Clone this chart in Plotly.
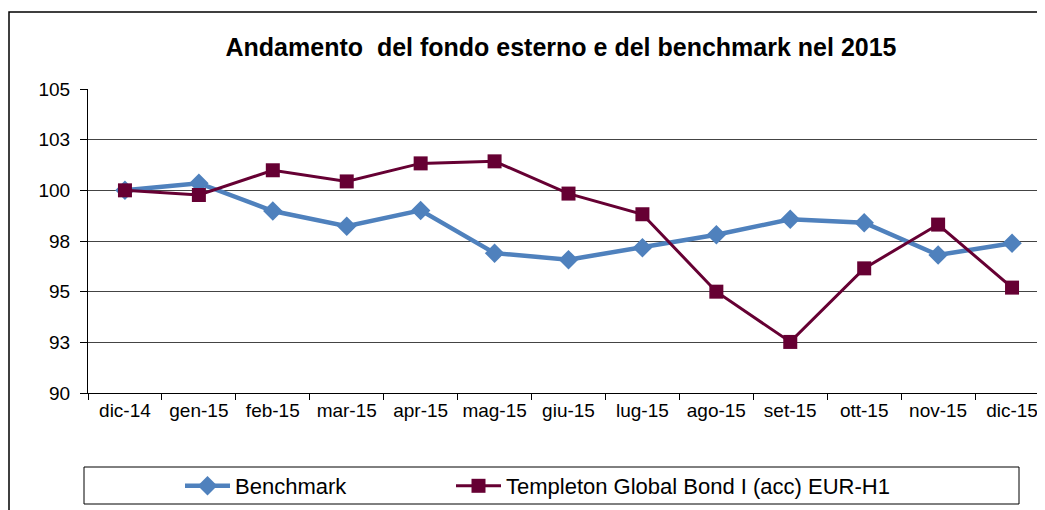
import plotly.graph_objects as go

categories = ["dic-14", "gen-15", "feb-15", "mar-15", "apr-15", "mag-15", "giu-15",
              "lug-15", "ago-15", "set-15", "ott-15", "nov-15", "dic-15"]
benchmark = [100.0, 100.35, 98.98, 98.23, 99.01, 96.9, 96.58, 97.17, 97.81, 98.57, 98.4, 96.81, 97.39]
templeton = [100.0, 99.77, 100.99, 100.44, 101.33, 101.43, 99.84, 98.82, 95.0, 92.52, 96.15, 98.31, 95.2]
y_tickvals = [90, 92.5, 95, 97.5, 100, 102.5, 105]
y_ticktext = ["90", "93", "95", "98", "100", "103", "105"]

FONT = "Liberation Sans, Arial, sans-serif"

# page body has an 8px default margin: screen coords = figure coords + 8
PW = 961.0  # plot width
PH = 304.0  # plot height


def px_x(sx):
    return (sx - 88) / PW


def px_y(sy):
    return (393 - sy) / PH


fig = go.Figure()
fig.add_trace(go.Scatter(
    x=categories, y=benchmark, name="Benchmark", mode="lines+markers",
    line=dict(color="#4F81BD", width=4.5),
    marker=dict(symbol="diamond", size=15, color="#4F81BD"),
    legend="legend",
))
fig.add_trace(go.Scatter(
    x=categories, y=templeton, name="Templeton Global Bond I (acc) EUR-H1", mode="lines+markers",
    line=dict(color="#660033", width=3),
    marker=dict(symbol="square", size=14, color="#660033"),
    legend="legend2",
))

legend_font = dict(family=FONT, size=22, color="black")

fig.update_layout(
    width=1045, height=510,
    margin=dict(l=80, r=4, t=81, b=125),
    paper_bgcolor="white", plot_bgcolor="white",
    font=dict(family=FONT, size=19, color="black"),
    title=dict(text="<b>Andamento  del fondo esterno e del benchmark nel 2015</b>",
               x=(561 - 8) / 1045, xref="container", xanchor="center",
               y=1 - (47 - 8) / 510, yref="container", yanchor="middle",
               font=dict(family=FONT, size=25, color="black")),
    showlegend=True,
    legend=dict(x=px_x(180), xanchor="left", y=px_y(486), yanchor="middle",
                bgcolor="rgba(0,0,0,0)", font=legend_font, itemwidth=45),
    legend2=dict(x=px_x(451), xanchor="left", y=px_y(486), yanchor="middle",
                 bgcolor="rgba(0,0,0,0)", font=legend_font, itemwidth=45),
    xaxis=dict(type="category", range=[-0.5, 12.5], showgrid=False,
               showline=True, linecolor="black", linewidth=1,
               ticks="outside", tickson="boundaries", ticklen=6, tickcolor="black",
               tickfont=dict(family=FONT, size=19, color="black")),
    yaxis=dict(range=[90, 105], tickvals=y_tickvals, ticktext=y_ticktext,
               showgrid=True, gridcolor="#444444", gridwidth=1,
               showline=True, linecolor="black", linewidth=1,
               ticks="outside", ticklen=7, tickcolor="black", zeroline=False,
               ticklabelstandoff=6,
               tickfont=dict(family=FONT, size=19, color="black")),
    shapes=[
        dict(type="rect", xref="paper", yref="paper",
             x0=px_x(9), x1=px_x(1060), y0=px_y(530), y1=px_y(12),
             line=dict(color="black", width=1.5), fillcolor="rgba(0,0,0,0)", layer="below"),
        dict(type="rect", xref="paper", yref="paper",
             x0=px_x(84), x1=px_x(1019), y0=px_y(504), y1=px_y(467),
             line=dict(color="black", width=1), fillcolor="rgba(0,0,0,0)"),
    ],
)

fig.write_html("out.html")
